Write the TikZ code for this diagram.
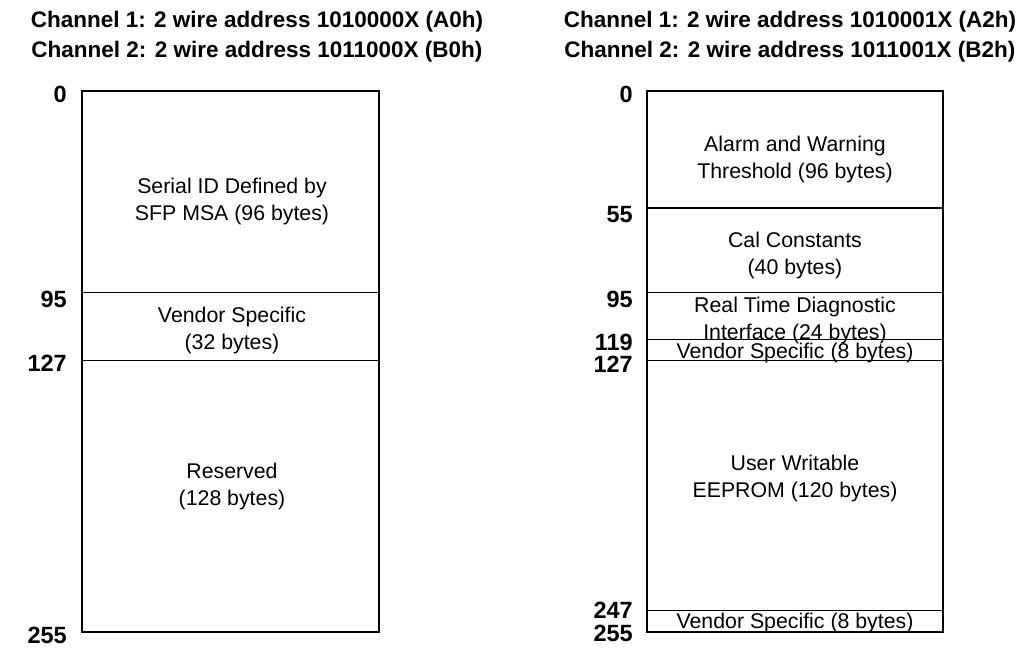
\documentclass[tikz,border=0pt]{standalone}
\usepackage{fontspec}
\setmainfont{Liberation Sans}
\begin{document}
\begin{tikzpicture}[x=1pt,y=-1pt,
  title/.style={font=\fontsize{22.5}{30}\selectfont\bfseries,align=center,inner sep=0pt},
  num/.style={font=\fontsize{23.5}{23}\selectfont\bfseries,anchor=east,inner sep=0pt},
  txt/.style={font=\fontsize{21.3}{27}\selectfont,align=center,inner sep=0pt},
  outline/.style={draw=black,line width=1.4pt},
  sep/.style={draw=black,line width=0.9pt}]
\useasboundingbox (0,0) rectangle (1029,658);
% titles
\node[title] (t1) at (257,37) {Channel 1: 2 wire address 1010000X (A0h)\\Channel 2: 2 wire address 1011000X (B0h)};
\node[title] (t2) at (790,37) {Channel 1: 2 wire address 1010001X (A2h)\\Channel 2: 2 wire address 1011001X (B2h)};
% left map
\draw[outline] (82,91) rectangle (379,632);
\draw[line width=2pt] (82,632) -- (379,632);
\draw[sep] (82,292) -- (379,292);
\draw[sep] (82,360) -- (379,360);
\node[num] (l0) at (67,94) {0};
\node[num] (l95) at (67,299) {95};
\node[num] (l127) at (67,363) {127};
\node[num] (l255) at (67,635) {255};
\node[txt] (lsid) at (232,201) {Serial ID Defined by\\SFP MSA (96 bytes)};
\node[txt] (lvs) at (232,330) {Vendor Specific\\(32 bytes)};
\node[txt] (lres) at (232,486) {Reserved\\(128 bytes)};
% right map
\draw[outline] (647,91) rectangle (943,632);
\draw[line width=2pt] (647,632) -- (943,632);
\draw[line width=1.6pt] (647,208) -- (943,208);
\draw[sep] (647,292) -- (943,292);
\draw[sep] (647,339) -- (943,339);
\draw[sep] (647,360) -- (943,360);
\draw[sep] (647,610) -- (943,610);
\node[num] (r0) at (633,94) {0};
\node[num] (r55) at (633,215) {55};
\node[num] (r95) at (633,299) {95};
\node[num] (r119) at (633,342) {119};
\node[num] (r127) at (633,364) {127};
\node[num] (r247) at (633,610) {247};
\node[num] (r255) at (633,633) {255};
\node[txt] (raw) at (795,159) {Alarm and Warning\\Threshold (96 bytes)};
\node[txt] (rcal) at (795,255) {Cal Constants\\(40 bytes)};
\node[txt] (rrt) at (795,320) {Real Time Diagnostic\\Interface (24 bytes)};
\node[txt] (rvs1) at (795,353) {Vendor Specific (8 bytes)};
\node[txt] (ruw) at (795,478) {User Writable\\EEPROM (120 bytes)};
\node[txt] (rvs2) at (795,623) {Vendor Specific (8 bytes)};
\end{tikzpicture}
\end{document}
